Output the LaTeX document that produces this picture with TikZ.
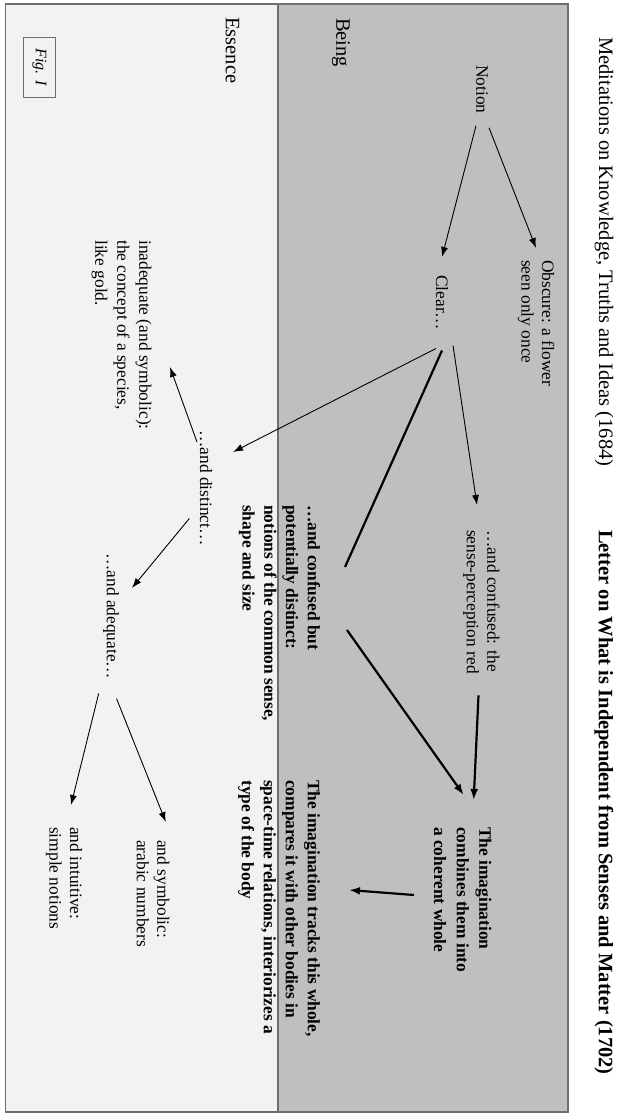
\documentclass[tikz,border=0pt]{standalone}
\usepackage{fontspec}
\setmainfont{Liberation Serif}
\usetikzlibrary{arrows.meta,calc}
\definecolor{beinggray}{RGB}{191,191,191}
\definecolor{essencegray}{RGB}{242,242,242}
\definecolor{framegray}{RGB}{110,110,110}
\begin{document}
\begin{tikzpicture}[x=1pt,y=-1pt,
  txt/.style={rotate=-90, anchor=west, inner sep=0pt, font=\fontsize{17.4}{20.5}\selectfont, align=left},
  btxt/.style={rotate=-90, anchor=west, inner sep=0pt, font=\fontsize{17.4}{21.8}\selectfont\bfseries, align=left},
  lbl/.style={rotate=-90, anchor=west, inner sep=0pt, font=\fontsize{20.5}{24}\selectfont},
  thinarr/.style={line width=0.9pt, -{Latex[length=10pt,width=7pt]}},
  thickarr/.style={line width=2.2pt, -{Latex[length=11pt,width=8pt]}},
  thickln/.style={line width=2.2pt},
]
\useasboundingbox (0,0) rectangle (619,1114);
\fill[white] (0,0) rectangle (619,1114);
\fill[essencegray] (5.5,4) rectangle (278,1112);
\fill[beinggray] (278,4) rectangle (568,1112);
\draw[framegray, line width=1.3pt] (5.5,4) rectangle (568,1112);
\draw[framegray, line width=1.3pt] (278,4) -- (278,1112);

\node[lbl] (title1) at (604,37) {Meditations on Knowledge, Truths and Ideas (1684)};
\node[lbl, font=\fontsize{20.5}{24}\selectfont\bfseries] (title2) at (604,530) {Letter on What is Independent from Senses and Matter (1702)};
\node[lbl] (being) at (341,18) {Being};
\node[lbl] (essence) at (232.5,17) {Essence};
\node[draw=framegray, line width=0.8pt, rotate=-90, minimum width=60pt, minimum height=31.5pt, inner sep=0pt, font=\fontsize{16}{19}\selectfont\itshape] (fig) at (39.5,67) {Fig. I};

\node[txt] (notion) at (482,65) {Notion};
\node[txt] (obscure) at (536,260) {Obscure: a flower\\seen only once};
\node[txt] (clear) at (442,275) {Clear…};
\node[txt] (sense) at (481.5,530) {…and confused: the\\sense-perception red};
\node[btxt] (cb) at (279.5,505) {…and confused but\\potentially distinct:\\notions of the common sense,\\shape and size};
\node[txt] (distinct) at (206,430) {…and distinct…};
\node[txt, font=\fontsize{17.4}{22}\selectfont] (inadequate) at (121.5,240) {inadequate (and symbolic):\\the concept of a species,\\like gold.};
\node[txt] (adequate) at (111,553) {…and adequate…};
\node[btxt, font=\fontsize{17.4}{22.7}\selectfont\bfseries] (imag) at (462.7,827) {The imagination\\combines them into\\a coherent whole};
\node[btxt, font=\fontsize{17.4}{22}\selectfont\bfseries] (tracks) at (279,780) {The imagination tracks this whole,\\compares it with other bodies in\\space-time relations, interiorizes a\\type of the body};
\node[txt] (symbolic) at (153,840) {and symbolic:\\arabic numbers};
\node[txt] (intuitive) at (64,827) {and intuitive:\\simple notions};

\draw[thinarr] ($(notion.east)+(-6,12)$) -- ($(clear.west)+(0,-18)$);
\draw[thinarr] ($(notion.east)+(7,14)$) -- ($(obscure.west)+(0,-12)$);
\draw[thinarr] ($(clear.east)+(11,15)$) -- ($(sense.west)+(-4.5,-25)$);
\draw[thinarr] ($(clear.east)+(-6,18)$) -- ($(distinct.west)+(27,22)$);
\draw[thickln] ($(clear.east)+(0,20)$) -- ($(cb.west)+(65.5,62)$);
\draw[thickarr] ($(cb.west)+(67.5,125)$) -- ($(imag.west)+(1,-32)$);
\draw[thickarr] ($(sense.east)+(-3,21.5)$) -- ($(imag.west)+(11,-27)$);
\draw[thickarr] ($(imag.west)+(-48.7,68)$) -- ($(tracks.west)+(70,110)$);
\draw[thinarr] ($(distinct.west)+(-9,12)$) -- ($(inadequate.west)+(48.5,127)$);
\draw[thinarr] ($(distinct.east)+(-16.6,-27.5)$) -- ($(adequate.west)+(21,35)$);
\draw[thinarr] ($(adequate.east)+(-12.3,14)$) -- ($(intuitive.west)+(7,-22)$);
\draw[thinarr] ($(adequate.east)+(5.5,19)$) -- ($(symbolic.west)+(12.8,-18)$);
\end{tikzpicture}
\end{document}
